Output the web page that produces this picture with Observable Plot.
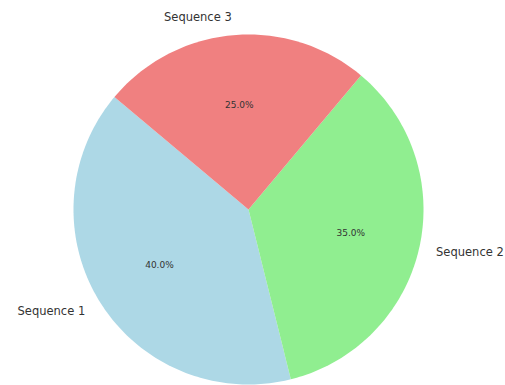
<!DOCTYPE html>
<html>
<head>
<meta charset="utf-8">
<script src="https://cdn.jsdelivr.net/npm/d3@7"></script>
<script src="https://cdn.jsdelivr.net/npm/@observablehq/plot@0.6"></script>
<style>
  html, body { margin: 0; padding: 0; background: #fff; }
  #chart svg { display: block; }
</style>
</head>
<body>
<div id="chart"></div>
<script>
// Data
const labels = ["Sequence 1", "Sequence 2", "Sequence 3"];
const values = [40, 35, 25];
const colors = ["#add8e6", "#90ee90", "#f08080"];

const W = 505, H = 385;
const cx = 248, cy = 209, R = 175; // pixel geometry
const startAngle = 140; // degrees, counterclockwise like matplotlib

const total = d3.sum(values);
let acc = startAngle;
const slices = labels.map((label, i) => {
  const a0 = acc;
  const a1 = acc + 360 * values[i] / total;
  acc = a1;
  return {label, value: values[i], color: colors[i], a0, a1, mid: (a0 + a1) / 2};
});

// Polygon points for each wedge (unit circle coords)
const rad = d => d * Math.PI / 180;
const wedgePts = [];
for (const s of slices) {
  wedgePts.push({label: s.label, x: 0, y: 0});
  const n = Math.ceil(s.a1 - s.a0);
  for (let k = 0; k <= n; k++) {
    const a = s.a0 + (s.a1 - s.a0) * k / n;
    wedgePts.push({label: s.label, x: Math.cos(rad(a)), y: Math.sin(rad(a))});
  }
}

const labelPts = slices.map(s => ({
  text: s.label,
  x: 1.1 * Math.cos(rad(s.mid)),
  y: 1.1 * Math.sin(rad(s.mid))
}));
const pctPts = slices.map(s => ({
  text: (100 * s.value / total).toFixed(1) + "%",
  x: 0.6 * Math.cos(rad(s.mid)),
  y: 0.6 * Math.sin(rad(s.mid))
}));

const chart = Plot.plot({
  width: W,
  height: H,
  margin: 0,
  style: {background: "#fff", fontFamily: "DejaVu Sans, sans-serif"},
  x: {domain: [-cx / R, (W - cx) / R], axis: null},
  y: {domain: [(cy - H) / R, cy / R], axis: null},
  color: {domain: labels, range: colors},
  marks: [
    Plot.line(wedgePts, {x: "x", y: "y", z: "label", fill: "label", stroke: "none", curve: "linear"}),
    Plot.text(labelPts.filter(d => d.x >= 0), {x: "x", y: "y", text: "text", textAnchor: "start", fontSize: 11.5, fill: "#333"}),
    Plot.text(labelPts.filter(d => d.x < 0), {x: "x", y: "y", text: "text", textAnchor: "end", fontSize: 11.5, fill: "#333"}),
    Plot.text(pctPts, {x: "x", y: "y", text: "text", fontSize: 9, fill: "#333"})
  ]
});
document.getElementById("chart").appendChild(chart);
</script>
</body>
</html>
